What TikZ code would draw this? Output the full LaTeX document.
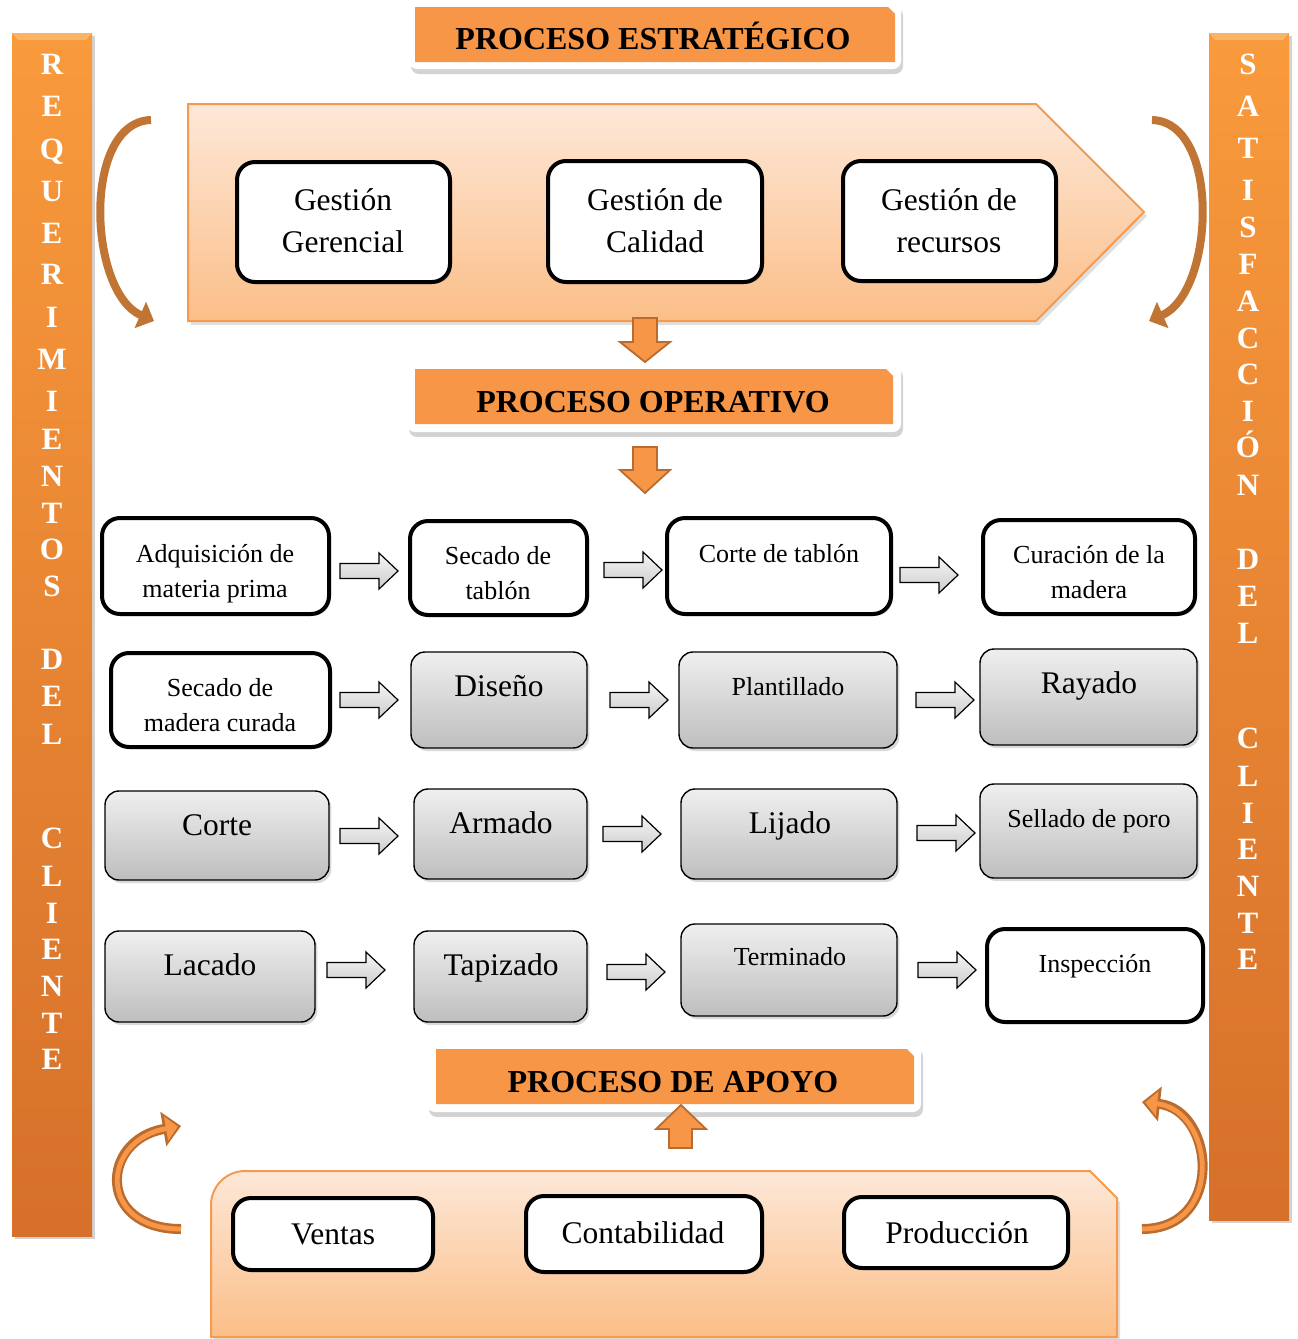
\documentclass[tikz,border=0pt]{standalone}
\usepackage{fontspec}
\setmainfont{Liberation Serif}
\usetikzlibrary{shadows,fit,arrows.meta,calc}
\definecolor{ortitle}{HTML}{F79646}
\definecolor{orbord}{HTML}{F59A4E}
\definecolor{lighttop}{HTML}{FDE8D8}
\definecolor{lightbot}{HTML}{FBBE88}
\definecolor{bartop}{HTML}{F99A3C}
\definecolor{barbot}{HTML}{D6702A}
\definecolor{barhl}{HTML}{FBB466}
\definecolor{brownarr}{HTML}{C17535}
\definecolor{brownedge}{HTML}{BA6C2E}
\definecolor{graytop}{HTML}{EFEFEF}
\definecolor{graybot}{HTML}{BEBEBE}
\tikzset{
  wbox/.style={draw=black, line width=2pt, fill=white, rounded corners=9pt, inner sep=0pt,
    drop shadow={opacity=0.25, shadow xshift=1pt, shadow yshift=-1pt}},
  gbox/.style={draw=black, line width=0.7pt, top color=graytop, bottom color=graybot,
    rounded corners=7pt, inner sep=0pt,
    drop shadow={opacity=0.3, shadow xshift=1.2pt, shadow yshift=-1.5pt}},
  titlewhite/.style={fill=white, rounded corners=4pt, inner sep=0pt,
    drop shadow={opacity=0.35, shadow xshift=1pt, shadow yshift=-2.5pt}},
  titlefill/.style={fill=ortitle},
  ttl/.style={font=\bfseries\fontsize{16}{19}\selectfont, inner sep=0pt, text height=1.5ex, text depth=0pt, yshift=-2.5pt},
  bigm/.style={font=\fontsize{15.75}{21}\selectfont, align=center, inner sep=0pt},
  bigs/.style={font=\fontsize{15.75}{21}\selectfont, inner sep=0pt, text height=1.5ex, text depth=0pt, yshift=-2.5pt},
  smlm/.style={font=\fontsize{13}{17.5}\selectfont, align=center, inner sep=0pt},
  smls/.style={font=\fontsize{13}{17.5}\selectfont, inner sep=0pt, text height=1.5ex, text depth=0pt, yshift=-2pt},
  barl/.style={font=\bfseries\fontsize{15.5}{18}\selectfont, text=white, inner sep=0pt, text height=1.5ex, text depth=0pt, yshift=-2.5pt},
  bar/.style={top color=bartop, bottom color=barbot,
    drop shadow={opacity=0.35, shadow xshift=1.5pt, shadow yshift=-1.5pt}},
  panel/.style={draw=orbord, line width=1pt, top color=lighttop, bottom color=lightbot,
    drop shadow={opacity=0.25, shadow xshift=1.5pt, shadow yshift=-2pt}},
  grayarrow/.style={draw=black, line width=0.6pt, top color=gray!8, bottom color=gray!40},
  blockarr/.style={draw=brownedge, line width=0.9pt, fill=ortitle},
  topcurve/.style={draw=brownarr, line width=4pt, -{Triangle[width=14pt,length=7.5pt]}},
  botcurveout/.style={draw=brownedge, line width=5pt, -{Triangle[width=17pt,length=9pt]}},
  botcurvein/.style={draw=ortitle, line width=2.4pt, shorten >=1.6pt, -{Triangle[width=12pt,length=6pt]}}
}
\newcommand{\rarrow}[2]{%
  \draw[grayarrow] (#1,#2) ++(0,-7.5) -- ++(39,0) -- ++(0,-10.5) -- ++(19,18) -- ++(-19,18) -- ++(0,-10.5) -- ++(-39,0) -- cycle;}
\begin{document}
\begin{tikzpicture}[x=0.5pt,y=-0.5pt]
\useasboundingbox (0,0) rectangle (1297,1339);

% ---------- side bars ----------
\path[bar] (12,33) rectangle (92,1236);
\fill[barhl] (12,33) -- (92,33) -- (86,40) -- (18,40) -- cycle;
\path[bar] (1209,33) rectangle (1289,1220);
\fill[barhl] (1209,33) -- (1289,33) -- (1283,40) -- (1215,40) -- cycle;

\foreach \l/\y [count=\i] in {R/63,E/105,Q/148,U/190,E/232,R/273,I/316,M/358,I/400,E/438,N/475,T/512,O/548,S/585,D/658,E/695,L/733,C/837,L/875,I/912,E/948,N/985,T/1022,E/1058}
  \node[barl] (lb\i) at (52,\y) {\l};
\foreach \l/\y [count=\i] in {S/63,A/105,T/147,I/189,S/226,F/263,A/300,C/337,C/373,I/410,Ó/446,N/484,D/558,E/595,L/632,C/737,L/775,I/812,E/848,N/885,T/922,E/958}
  \node[barl] (rb\i) at (1248,\y) {\l};

% ---------- strategic panel ----------
\path[panel] (188,104) -- (1036,104) -- (1144,212) -- (1036,321) -- (188,321) -- cycle;
\node[wbox, fit={(237,162)(450,282)}] (gg) {};
\node[wbox, fit={(548,161)(762,282)}] (gc) {};
\node[wbox, fit={(843,161)(1056,281)}] (gr) {};
\node[bigm] (ggT) at (343,221) {Gestión\\Gerencial};
\node[bigm] (gcT) at (655,221) {Gestión de\\Calidad};
\node[bigm] (grT) at (949,221) {Gestión de\\recursos};

% curved arrows top
\coordinate (ca1s) at (151,120); \coordinate (ca1e) at (154,321);
\draw[topcurve] (ca1s) .. controls (82,122) and (88,292) .. (ca1e);
\coordinate (ca2s) at (1152,120); \coordinate (ca2e) at (1149,321);
\draw[topcurve] (ca2s) .. controls (1221,122) and (1215,292) .. (ca2e);

% block arrows down
\draw[blockarr] (633,318) -- (657,318) -- (657,342) -- (670,342) -- (645,362) -- (620,342) -- (633,342) -- cycle;

% ---------- titles ----------
\node[titlewhite, fit={(409,3)(901,69)}] (t1w) {};
\path[titlefill] (415,7) -- (888,7) -- (895,14) -- (895,62) -- (415,62) -- cycle;
\node[ttl] (t1) at (653,38) {PROCESO ESTRATÉGICO};

\node[titlewhite, fit={(407,364)(901,432)}] (t2w) {};
\path[titlefill] (415,369) -- (886,369) -- (893,376) -- (893,424) -- (415,424) -- cycle;
\node[ttl] (t2) at (653,401) {PROCESO OPERATIVO};

\draw[blockarr] (633,447) -- (657,447) -- (657,470) -- (670,470) -- (645,493) -- (620,470) -- (633,470) -- cycle;

% ---------- operative grid ----------
% row 1
\node[wbox, fit={(102,518)(329,614)}] (a1) {};
\node[wbox, fit={(410,521)(587,615)}] (a2) {};
\node[wbox, fit={(667,518)(891,614)}] (a3) {};
\node[wbox, fit={(983,520)(1195,614)}] (a4) {};
\node[smlm] (a1T) at (215,574) {Adquisición de\\materia prima};
\node[smlm] (a2T) at (498,573) {Secado de\\tablón};
\node[smls] (a3T) at (779,552) {Corte de tablón};
\node[smlm] (a4T) at (1089,572) {Curación de la\\madera};
\rarrow{340}{571}
\rarrow{604}{570}
\rarrow{900}{575}
% row 2
\node[wbox, fit={(111,653)(330,747)}] (b1) {};
\node[gbox, fit={(411,652)(587,748)}] (b2) {};
\node[gbox, fit={(679,652)(897,748)}] (b3) {};
\node[gbox, fit={(980,649)(1197,745)}] (b4) {};
\node[smlm] (b1T) at (220,705) {Secado de\\madera curada};
\node[bigs] (b2T) at (499,685) {Diseño};
\node[smls] (b3T) at (788,685) {Plantillado};
\node[bigs] (b4T) at (1089,682) {Rayado};
\rarrow{340}{700}
\rarrow{610}{700}
\rarrow{916}{700}
% row 3
\node[gbox, fit={(105,791)(329,880)}] (c1) {};
\node[gbox, fit={(414,789)(587,879)}] (c2) {};
\node[gbox, fit={(681,789)(897,879)}] (c3) {};
\node[gbox, fit={(980,784)(1197,878)}] (c4) {};
\node[bigs] (c1T) at (217,824) {Corte};
\node[bigs] (c2T) at (501,822) {Armado};
\node[bigs] (c3T) at (790,822) {Lijado};
\node[smls] (c4T) at (1089,817) {Sellado de poro};
\rarrow{340}{836}
\rarrow{603}{834}
\rarrow{917}{833}
% row 4
\node[gbox, fit={(105,931)(315,1022)}] (d1) {};
\node[gbox, fit={(414,931)(587,1022)}] (d2) {};
\node[gbox, fit={(681,924)(897,1016)}] (d3) {};
\node[wbox, fit={(987,929)(1203,1022)}] (d4) {};
\node[bigs] (d1T) at (210,964) {Lacado};
\node[bigs] (d2T) at (501,964) {Tapizado};
\node[smls] (d3T) at (790,955) {Terminado};
\node[smls] (d4T) at (1095,962) {Inspección};
\rarrow{327}{970}
\rarrow{607}{972}
\rarrow{918}{970}

% ---------- support ----------
\node[titlewhite, fit={(427,1044)(921,1112)}] (t3w) {};
\path[titlefill] (436,1049) -- (907,1049) -- (914,1056) -- (914,1104) -- (436,1104) -- cycle;
\node[ttl] (t3) at (673,1081) {PROCESO DE APOYO};
\draw[blockarr] (669,1148) -- (692,1148) -- (692,1129) -- (706,1129) -- (681,1105) -- (656,1129) -- (669,1129) -- cycle;

\path[panel] (211,1337) [rounded corners=17pt] -- (211,1171) [sharp corners] -- (1090,1171) -- (1117,1198) -- (1117,1337) -- cycle;
\node[wbox, fit={(233,1198)(433,1270)}] (v) {};
\node[wbox, fit={(526,1196)(762,1272)}] (co) {};
\node[wbox, fit={(844,1197)(1068,1268)}] (pr) {};
\node[bigs] (vT) at (333,1233) {Ventas};
\node[bigs] (coT) at (643,1232) {Contabilidad};
\node[bigs] (prT) at (957,1232) {Producción};

% curved arrows bottom
\coordinate (ca3s) at (181,1229); \coordinate (ca3e) at (181,1126);
\draw[botcurveout] (ca3s) .. controls (97,1229) and (100,1140) .. (ca3e);
\draw[botcurvein] (ca3s) .. controls (97,1229) and (100,1140) .. (ca3e);
\coordinate (ca4s) at (1142,1229); \coordinate (ca4e) at (1142,1102);
\draw[botcurveout] (ca4s) .. controls (1225,1229) and (1215,1110) .. (ca4e);
\draw[botcurvein] (ca4s) .. controls (1225,1229) and (1215,1110) .. (ca4e);
\end{tikzpicture}
\end{document}
